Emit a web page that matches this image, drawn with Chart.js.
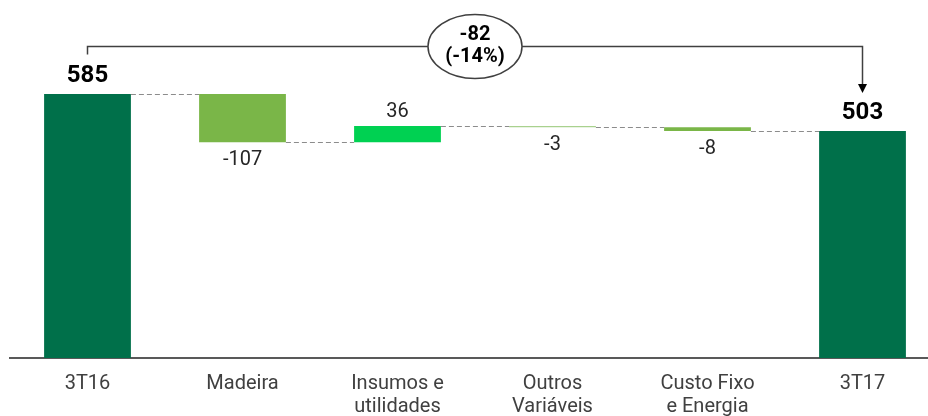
<!DOCTYPE html>
<html>
<head>
<meta charset="utf-8">
<script src="https://cdn.jsdelivr.net/npm/chart.js@4.4.1/dist/chart.umd.min.js"></script>
<style>
  html, body { margin: 0; padding: 0; background: #fff; overflow: hidden; }
  #wrap { width: 940px; height: 416px; position: relative; }
</style>
</head>
<body>
<div id="wrap"><canvas id="myChart"></canvas></div>
<script>
// chart data
const categories = ['3T16', 'Madeira', ['Insumos e', 'utilidades'], ['Outros', 'Variáveis'], ['Custo Fixo', 'e Energia'], '3T17'];
const deltas = [585, -107, 36, -3, -8, 503];
const isTotal = [true, false, false, false, false, true];
const barColors = ['#00704a', '#7ab648', '#00d152', '#a9d18e', '#7ab648', '#00704a'];
const changeText = ['-82', '(-14%)'];

// build floating bars [start, end] from the deltas
var running = 0;
var floating = [];
var levels = [];
deltas.forEach(function (d, i) {
    if (isTotal[i]) {
        floating.push([0, d]);
        running = d;
    } else {
        floating.push([running, running + d]);
        running += d;
    }
    levels.push(running);
});

const FONT = 'Roboto';

// labels, connectors and the bracket on top
const waterfallExtras = {
    id: 'waterfallExtras',
    afterDatasetsDraw(chart) {
        const ctx = chart.ctx;
        const meta = chart.getDatasetMeta(0);
        const y = chart.scales.y;

        // dashed connectors
        ctx.save();
        ctx.strokeStyle = '#8c8c8c';
        ctx.lineWidth = 1;
        ctx.setLineDash([5, 3]);
        for (let i = 0; i < meta.data.length - 1; i++) {
            const a = meta.data[i], b = meta.data[i + 1];
            const py = Math.round(y.getPixelForValue(levels[i])) + 0.5;
            ctx.beginPath();
            ctx.moveTo(a.x + a.width / 2, py);
            ctx.lineTo(b.x - b.width / 2, py);
            ctx.stroke();
        }
        ctx.restore();

        // value labels
        ctx.save();
        ctx.textAlign = 'center';
        meta.data.forEach(function (bar, i) {
            const top = Math.min(bar.y, bar.base);
            const bottom = Math.max(bar.y, bar.base);
            const d = deltas[i];
            if (isTotal[i]) {
                ctx.font = 'bold 24px ' + FONT;
                ctx.fillStyle = '#000';
                ctx.textBaseline = 'bottom';
                ctx.fillText(String(d), bar.x, top - 6);
            } else if (d >= 0) {
                ctx.font = '20px ' + FONT;
                ctx.fillStyle = '#262626';
                ctx.textBaseline = 'bottom';
                ctx.fillText(String(d), bar.x, top - 4);
            } else {
                ctx.font = '20px ' + FONT;
                ctx.fillStyle = '#262626';
                ctx.textBaseline = 'top';
                ctx.fillText(String(d), bar.x, bottom + 8);
            }
        });
        ctx.restore();

        // bracket from first total to last total
        const first = meta.data[0], last = meta.data[meta.data.length - 1];
        const by = y.getPixelForValue(690);
        const cx = (first.x + last.x) / 2;
        const rx = 47, ry = 32;
        ctx.save();
        ctx.strokeStyle = '#404040';
        ctx.lineWidth = 1.5;
        ctx.beginPath();
        ctx.moveTo(first.x, by + 8);
        ctx.lineTo(first.x, by);
        ctx.lineTo(last.x, by);
        ctx.lineTo(last.x, first.y - 8);
        ctx.stroke();
        // arrow head
        ctx.fillStyle = '#000';
        ctx.beginPath();
        ctx.moveTo(last.x - 4.5, first.y - 10);
        ctx.lineTo(last.x + 4.5, first.y - 10);
        ctx.lineTo(last.x, first.y - 1);
        ctx.closePath();
        ctx.fill();
        // ellipse
        ctx.beginPath();
        ctx.ellipse(cx, by, rx, ry, 0, 0, Math.PI * 2);
        ctx.fillStyle = '#fff';
        ctx.fill();
        ctx.stroke();
        ctx.fillStyle = '#000';
        ctx.font = 'bold 20px ' + FONT;
        ctx.textAlign = 'center';
        ctx.textBaseline = 'middle';
        ctx.fillText(changeText[0], cx, by - 11);
        ctx.fillText(changeText[1], cx, by + 11);
        ctx.restore();
    }
};

var ctx = document.getElementById('myChart').getContext('2d');
var chart = new Chart(ctx, {
    type: 'bar',
    data: {
        labels: categories,
        datasets: [{
            data: floating,
            backgroundColor: barColors,
            borderWidth: 0,
            categoryPercentage: 1,
            barPercentage: 0.56
        }]
    },
    options: {
        responsive: true,
        maintainAspectRatio: false,
        animation: false,
        layout: { padding: { left: 10, right: 0, top: 0, bottom: 0 } },
        plugins: {
            legend: { display: false },
            tooltip: { enabled: false }
        },
        scales: {
            x: {
                grid: { display: false, drawTicks: false },
                border: { display: true, color: '#595959', width: 2 },
                ticks: {
                    color: '#404040',
                    padding: 14,
                    maxRotation: 0,
                    autoSkip: false,
                    font: { family: FONT, size: 20, lineHeight: 1.15 }
                },
                afterFit: function (scale) { scale.height = 58; }
            },
            y: {
                display: false,
                min: 0,
                max: 793
            }
        }
    },
    plugins: [waterfallExtras]
});
</script>
</body>
</html>
